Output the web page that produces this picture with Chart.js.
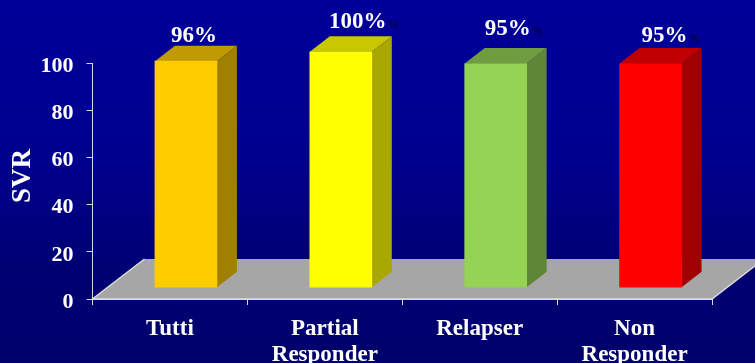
<!DOCTYPE html>
<html>
<head>
<meta charset="utf-8">
<title>SVR</title>
<script src="https://cdn.jsdelivr.net/npm/chart.js@4/dist/chart.umd.min.js"></script>
<style>
  html, body { margin: 0; padding: 0; background: #000080; overflow: hidden; }
  canvas { display: block; }
</style>
</head>
<body>
<canvas id="myChart" width="755" height="363"></canvas>
<script>
const categories = [['Tutti'], ['Partial', 'Responder'], ['Relapser'], ['Non', 'Responder']];
const svrValues = [96, 100, 95, 95];
const yTicks = [0, 20, 40, 60, 80, 100];

const frontColors = ['#ffcc00', '#ffff00', '#95d355', '#ff0000'];
const sideColors = ['#a08000', '#a8a800', '#5f8636', '#a00000'];
const topColors = ['#c09a00', '#c8c800', '#6f9c3f', '#c00000'];

// bars stand on the middle of the floor, a few units above the axis
const standOn = 5;
const floorDepth = { x: 52, y: 40 };
const barDepth = { x: 20, y: 15.5 };
const barShift = 16;

// the value captions do not sit at a fixed distance from the bars
const captionX = [24, 33, 28, 30];
const captionBaseline = [42, 28, 35, 42];
const smallPercent = [false, true, true, true];

function polygon(ctx, pts, fill) {
  ctx.beginPath();
  ctx.moveTo(pts[0][0], pts[0][1]);
  pts.slice(1).forEach(p => ctx.lineTo(p[0], p[1]));
  ctx.closePath();
  ctx.fillStyle = fill;
  ctx.fill();
}

const backdrop = {
  id: 'backdrop',
  beforeDraw(chart) {
    const ctx = chart.ctx;
    const grad = ctx.createLinearGradient(0, 0, 0, chart.height);
    grad.addColorStop(0, '#000099');
    grad.addColorStop(0.45, '#00008e');
    grad.addColorStop(0.75, '#000072');
    grad.addColorStop(1, '#00006c');
    ctx.fillStyle = grad;
    ctx.fillRect(0, 0, chart.width, chart.height);
  }
};

const floor3d = {
  id: 'floor3d',
  beforeDatasetsDraw(chart) {
    const ctx = chart.ctx;
    const x = chart.scales.x;
    const y0 = chart.scales.y.getPixelForValue(0);
    const l = x.left, r = x.right;
    polygon(ctx, [[l, y0], [r, y0], [r + floorDepth.x, y0 - floorDepth.y], [l + floorDepth.x, y0 - floorDepth.y]], '#a6a6a6');

    ctx.strokeStyle = '#dcdcdc';
    ctx.lineWidth = 1.5;
    ctx.beginPath();
    ctx.moveTo(l + floorDepth.x, y0 - floorDepth.y);
    ctx.lineTo(l, y0);
    ctx.lineTo(r, y0);
    ctx.lineTo(r + floorDepth.x, y0 - floorDepth.y);
    ctx.stroke();

    // side and top faces go under the front face that the bar dataset draws
    chart.getDatasetMeta(0).data.forEach((bar, i) => {
      const right = bar.x + barShift + bar.width / 2;
      const left = right - bar.width;
      const dx = barDepth.x, dy = barDepth.y;
      polygon(ctx, [[right, bar.y], [right + dx, bar.y - dy], [right + dx, bar.base - dy], [right, bar.base]], sideColors[i]);
      polygon(ctx, [[left, bar.y], [left + dx, bar.y - dy], [right + dx, bar.y - dy], [right, bar.y]], topColors[i]);
    });
  },
  beforeDatasetDraw(chart) {
    chart.ctx.save();
    chart.ctx.translate(barShift, 0);
  },
  afterDatasetDraw(chart) {
    chart.ctx.restore();
  }
};

const captions = {
  id: 'captions',
  afterDraw(chart) {
    const ctx = chart.ctx;
    chart.getDatasetMeta(0).data.forEach((bar, i) => {
      const text = svrValues[i] + '%';
      ctx.textAlign = 'center';
      ctx.textBaseline = 'alphabetic';
      ctx.font = 'bold 23px "Liberation Serif"';
      ctx.fillStyle = '#ffffff';
      const cx = bar.x + captionX[i];
      ctx.fillText(text, cx, captionBaseline[i]);
      if (smallPercent[i]) {
        const w = ctx.measureText(text).width;
        ctx.font = '11px "Liberation Sans"';
        ctx.fillStyle = '#000033';
        ctx.textAlign = 'left';
        ctx.fillText('%', cx + w / 2 + 2, captionBaseline[i]);
      }
    });

    // axis title, sitting a little above the middle of the axis
    ctx.save();
    ctx.translate(30, 176);
    ctx.rotate(-Math.PI / 2);
    ctx.textAlign = 'center';
    ctx.textBaseline = 'alphabetic';
    ctx.font = 'bold 27px "Liberation Serif"';
    ctx.fillStyle = '#ffffff';
    ctx.fillText('SVR', 0, 0);
    ctx.restore();
  }
};

const ctx = document.getElementById('myChart').getContext('2d');
const chart = new Chart(ctx, {
  type: 'bar',
  data: {
    labels: categories,
    datasets: [{
      label: 'SVR',
      data: svrValues.map(v => [standOn, standOn + v]),
      backgroundColor: frontColors,
      borderColor: frontColors,
      borderWidth: 0,
      borderSkipped: false,
      barThickness: 62,
      clip: false
    }]
  },
  plugins: [backdrop, floor3d, captions],
  options: {
    responsive: false,
    animation: false,
    layout: { padding: { top: 63.5, right: 43, bottom: 0, left: 0 } },
    plugins: { legend: { display: false }, tooltip: { enabled: false } },
    scales: {
      x: {
        afterFit(axis) { axis.height = 64; },
        border: { color: '#d8d8e8', width: 1 },
        grid: { display: true, offset: true, drawOnChartArea: false, tickLength: 6, color: '#d8d8e8' },
        ticks: {
          color: '#ffffff',
          padding: 11,
          maxRotation: 0,
          autoSkip: false,
          font: { family: '"Liberation Serif"', size: 23, weight: 'bold', lineHeight: 1.13 }
        }
      },
      y: {
        min: 0,
        max: 100,
        afterFit(axis) { axis.width = 92.5; },
        afterBuildTicks(axis) { axis.ticks = yTicks.map(v => ({ value: v })); },
        border: { color: '#d8d8e8', width: 1 },
        grid: { display: true, drawOnChartArea: false, tickLength: 6, color: '#d8d8e8' },
        ticks: {
          color: '#ffffff',
          padding: 13,
          labelOffset: 3,
          font: { family: '"Liberation Serif"', size: 22, weight: 'bold' }
        }
      }
    }
  }
});
</script>
</body>
</html>
